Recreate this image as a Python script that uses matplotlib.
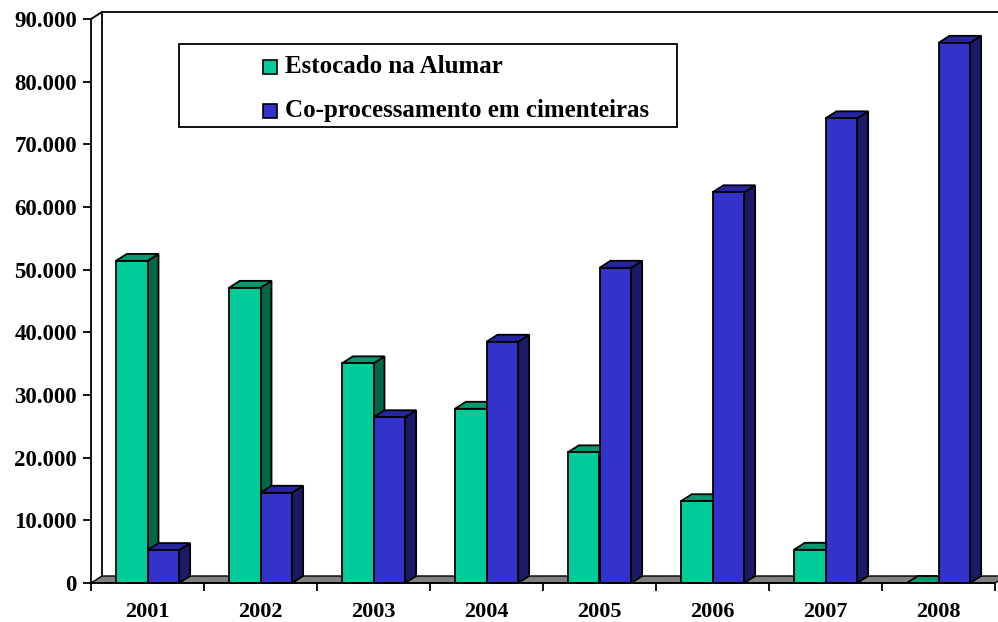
import matplotlib
matplotlib.use("Agg")
import matplotlib.pyplot as plt
from matplotlib.patches import Polygon, Rectangle
from matplotlib.ticker import FuncFormatter, FixedLocator

years = ["2001", "2002", "2003", "2004", "2005", "2006", "2007", "2008"]
estocado = [51400, 47100, 35050, 27800, 20850, 13050, 5300, 0]
coproc = [5250, 14400, 26450, 38500, 50300, 62350, 74150, 86200]
series_names = ["Estocado na Alumar", "Co-processamento em cimenteiras"]
yticks = [0, 10000, 20000, 30000, 40000, 50000, 60000, 70000, 80000, 90000]

W, H = 998, 622
fig = plt.figure(figsize=(W / 100, H / 100), dpi=100)
fig.patch.set_facecolor("white")

# front plot area in pixels
L, R, T, B = 91, 995, 19, 583
ax = fig.add_axes([L / W, (H - B) / H, (R - L) / W, (B - T) / H])
ncat = len(years)
ymax = 90000
ax.set_xlim(0, ncat)
ax.set_ylim(0, ymax)
ax.set_facecolor("none")

# 3D depth offsets (pixels -> data)
DXP, DYP = 11, 7
dx = DXP * ncat / (R - L)
dy = DYP * ymax / (B - T)

FONT = "Liberation Serif"
lw = 1.3
PT = 72 / 100  # pixels -> points

# back wall lines
ax.plot([dx, dx], [dy, ymax + dy], color="black", lw=lw, clip_on=False, zorder=1)
ax.plot([dx, ncat + dx + 0.2], [ymax + dy, ymax + dy], color="black", lw=lw, clip_on=False, zorder=1)
ax.plot([0, dx], [ymax, ymax + dy], color="black", lw=lw, clip_on=False, zorder=1)

# floor
floor = Polygon([(0, 0), (ncat, 0), (ncat + dx, dy), (dx, dy)], closed=True,
                facecolor="#808080", edgecolor="black", lw=1.0, clip_on=False, zorder=2)
ax.add_patch(floor)

face_g, side_g, top_g = "#00CC99", "#006647", "#009970"
face_b, side_b, top_b = "#3333CC", "#1A1A66", "#2626A0"
bw = 0.28


def bar3d(x0, v, face, side, top, z):
    x1 = x0 + bw
    ax.add_patch(Polygon([(x1, 0), (x1 + dx, dy), (x1 + dx, v + dy), (x1, v)], closed=True,
                         facecolor=side, edgecolor="black", lw=lw, zorder=z, clip_on=False))
    ax.add_patch(Polygon([(x0, v), (x1, v), (x1 + dx, v + dy), (x0 + dx, v + dy)], closed=True,
                         facecolor=top, edgecolor="black", lw=lw, zorder=z, clip_on=False))
    ax.add_patch(Rectangle((x0, 0), bw, v, facecolor=face, edgecolor="black", lw=lw,
                           zorder=z, clip_on=False))


for i in range(ncat):
    c = i + 0.5
    bar3d(c - bw, estocado[i], face_g, side_g, top_g, 3 + 2 * i)
    bar3d(c, coproc[i], face_b, side_b, top_b, 4 + 2 * i)

# axes / ticks
for s in ["top", "right"]:
    ax.spines[s].set_visible(False)
ax.spines["left"].set_linewidth(lw)
ax.spines["bottom"].set_linewidth(lw)
ax.spines["left"].set_zorder(30)
ax.spines["bottom"].set_zorder(30)

ax.yaxis.set_major_locator(FixedLocator(yticks))
ax.yaxis.set_major_formatter(FuncFormatter(lambda v, p: "0" if v == 0 else f"{int(v):,}".replace(",", ".")))
ax.tick_params(axis="y", direction="out", length=8 * PT, width=lw, pad=6 * PT, labelsize=16.5)

ax.xaxis.set_major_locator(FixedLocator(list(range(ncat + 1))))
ax.xaxis.set_minor_locator(FixedLocator([i + 0.5 for i in range(ncat)]))
ax.set_xticklabels([""] * (ncat + 1))
ax.set_xticklabels(years, minor=True)
ax.tick_params(axis="x", which="major", direction="out", length=8 * PT, width=lw)
ax.tick_params(axis="x", which="minor", length=0, pad=19 * PT, labelsize=16)
for lab in ax.get_yticklabels() + ax.get_xticklabels(minor=True):
    lab.set_fontfamily(FONT)
    lab.set_fontweight("bold")

# legend box (drawn manually in pixel space)
def px(x, y):
    return (x / W, 1 - y / H)

lx0, ly0, lx1, ly1 = 179, 44, 677, 127
fig.add_artist(Rectangle(px(lx0, ly1), (lx1 - lx0) / W, (ly1 - ly0) / H,
                         transform=fig.transFigure, facecolor="white", edgecolor="black",
                         lw=1.3, zorder=50))
rows = [(73, face_g), (117, face_b)]
for (yb, col), name in zip(rows, series_names):
    fig.add_artist(Rectangle(px(263, yb + 1), 14 / W, 14 / H, transform=fig.transFigure,
                             facecolor=col, edgecolor="black", lw=1.2, zorder=51))
    fig.text(285 / W, 1 - yb / H, name, fontsize=18, fontfamily=FONT, fontweight="bold",
             va="baseline", ha="left", zorder=52)

fig.savefig("out.png", dpi=100)
